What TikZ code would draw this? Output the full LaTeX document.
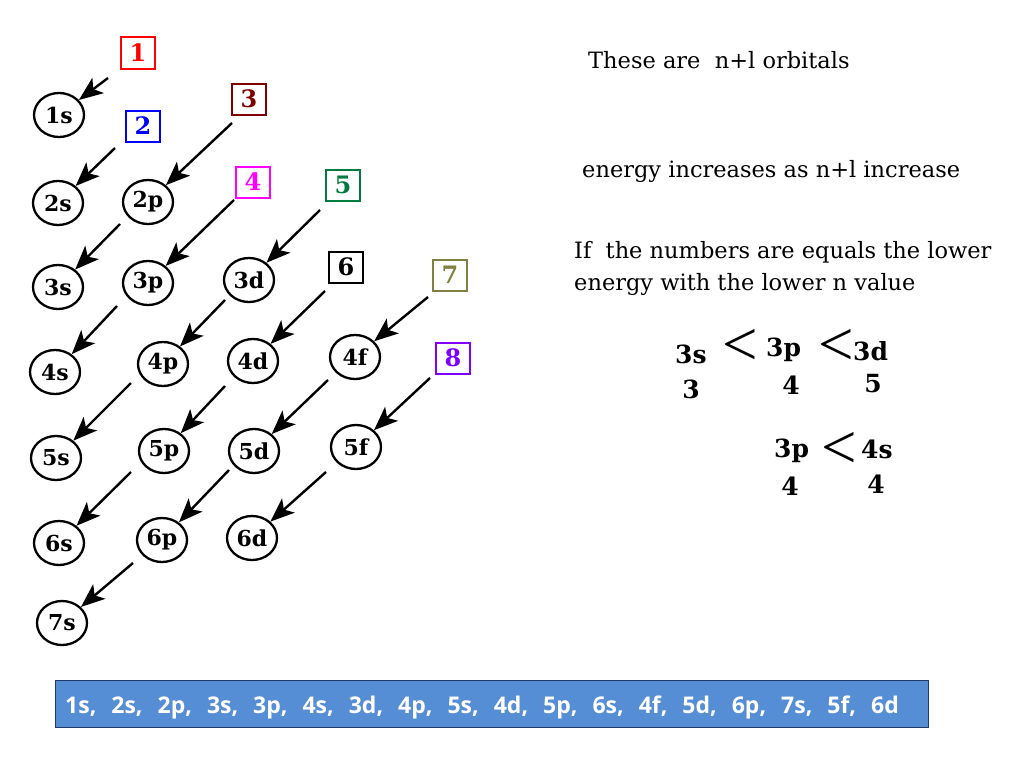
\documentclass[tikz,border=0pt]{standalone}
\usepackage{fontspec}
\setmainfont{DejaVu Serif}
\newfontfamily\barfont{Open Sans}
\newfontfamily\ltfont{Liberation Serif}
\usetikzlibrary{arrows.meta,shapes.geometric}
\definecolor{bxred}{HTML}{FF0000}
\definecolor{bxblue}{HTML}{0000FF}
\definecolor{bxmaroon}{HTML}{800000}
\definecolor{bxmagenta}{HTML}{FF00FF}
\definecolor{bxgreen}{HTML}{007A3D}
\definecolor{bxolive}{HTML}{808040}
\definecolor{bxviolet}{HTML}{8000FF}
\definecolor{barfill}{HTML}{558ED5}
\definecolor{barline}{HTML}{1F3864}
\tikzset{
  orb/.style={ellipse, draw, line width=2.3pt, minimum width=50pt, minimum height=44pt,
    inner sep=0pt, font=\fontsize{22}{26}\selectfont\bfseries},
  numbox/.style={draw, line width=2pt, minimum width=34pt, minimum height=31pt,
    inner sep=0pt, font=\fontsize{24}{28}\selectfont\bfseries},
  arr/.style={line width=2.4pt, -{Stealth[length=24pt,width=19pt,inset=6pt]}},
  note/.style={inner sep=0pt, anchor=base west, font=\fontsize{22.5}{27}\selectfont},
  cmp/.style={inner sep=0pt, font=\fontsize{25}{29}\selectfont\bfseries},
  lessthan/.style={inner sep=0pt, font=\ltfont\fontsize{63}{70}\selectfont}
}
\begin{document}
\begin{tikzpicture}[x=1pt,y=-1pt]
\fill[white] (0,0) rectangle (1024,768);
\useasboundingbox (0,0) rectangle (1024,768);

% orbitals
\node[orb] (1s) at (59,115) {1s};
\node[orb] (2s) at (58,203) {2s};
\node[orb] (2p) at (148,202) {2p};
\node[orb] (3s) at (58,287) {3s};
\node[orb] (3p) at (148,283) {3p};
\node[orb] (3d) at (249,280) {3d};
\node[orb] (4s) at (55,372) {4s};
\node[orb] (4p) at (163,364) {4p};
\node[orb] (4d) at (253,361) {4d};
\node[orb] (4f) at (355,357) {4f};
\node[orb] (5s) at (56,458) {5s};
\node[orb] (5p) at (164,451) {5p};
\node[orb] (5d) at (254,451) {5d};
\node[orb] (5f) at (356,447) {5f};
\node[orb] (6s) at (59,543) {6s};
\node[orb] (6p) at (162,540) {6p};
\node[orb] (6d) at (252,538) {6d};
\node[orb] (7s) at (62,623) {7s};

% number boxes
\node[numbox, draw=bxred, text=bxred] (b1) at (138,53) {1};
\node[numbox, draw=bxblue, text=bxblue] (b2) at (143,126) {2};
\node[numbox, draw=bxmaroon, text=bxmaroon] (b3) at (249,99) {3};
\node[numbox, draw=bxmagenta, text=bxmagenta] (b4) at (253,182) {4};
\node[numbox, draw=bxgreen, text=bxgreen] (b5) at (343,185) {5};
\node[numbox, draw=black, text=black] (b6) at (346,267) {6};
\node[numbox, draw=bxolive, text=bxolive] (b7) at (450,275) {7};
\node[numbox, draw=bxviolet, text=bxviolet] (b8) at (453,358) {8};

% arrow tails
\coordinate (t1) at (108,78);
\coordinate (t2) at (115,148);
\coordinate (t3) at (232,123);
\coordinate (t2p) at (120,224);
\coordinate (t4) at (234,200);
\coordinate (t3p) at (117,306);
\coordinate (t5) at (320,210);
\coordinate (t3d) at (225,300);
\coordinate (t6) at (325,291);
\coordinate (t7) at (428,297);
\coordinate (t4p) at (131,383);
\coordinate (t4d) at (225,386);
\coordinate (t4f) at (328,380);
\coordinate (t8) at (430,378);
\coordinate (t5p) at (131,472);
\coordinate (t5d) at (229,470);
\coordinate (t5f) at (326,472);
\coordinate (t6p) at (133,563);

\draw[arr] (t1) -- (1s);
\draw[arr] (t2) -- (2s);
\draw[arr] (t3) -- (2p);
\draw[arr] (t2p) -- (3s);
\draw[arr] (t4) -- (3p);
\draw[arr] (t3p) -- (4s);
\draw[arr] (t5) -- (3d);
\draw[arr] (t3d) -- (4p);
\draw[arr] (t6) -- (4d);
\draw[arr] (t7) -- (4f);
\draw[arr] (t4p) -- (5s);
\draw[arr] (t4d) -- (5p);
\draw[arr] (t4f) -- (5d);
\draw[arr] (t8) -- (5f);
\draw[arr] (t5p) -- (6s);
\draw[arr] (t5d) -- (6p);
\draw[arr] (t5f) -- (6d);
\draw[arr] (t6p) -- (7s);

% notes
\node[note] (n1) at (588,68) {These are~ n+l orbitals};
\node[note] (n2) at (582,177) {energy increases as n+l increase};
\node[note] (n3) at (574,258) {If~ the numbers are equals the lower};
\node[note] (n4) at (574,290) {energy with the lower n value};

% comparisons
\node[cmp, anchor=base west] (c3s) at (675,363) {3s};
\node[cmp, anchor=base west] (c3p) at (766,356) {3p};
\node[cmp, anchor=base west] (c3d) at (853,360) {3d};
\node[cmp] (v3) at (691,389) {3};
\node[cmp] (v4) at (791,385) {4};
\node[cmp] (v5) at (873,384) {5};
\node[lessthan] (lt1) at (740,347.5) {<};
\node[lessthan] (lt2) at (836,347.5) {<};
\node[cmp, anchor=base west] (d3p) at (774,457) {3p};
\node[cmp, anchor=base west] (d4s) at (861,458) {4s};
\node[lessthan] (lt3) at (839,450) {<};
\node[cmp] (w4a) at (790,486) {4};
\node[cmp] (w4b) at (876,484) {4};

% bottom bar
\node[draw=barline, fill=barfill, line width=1pt, minimum width=873pt, minimum height=47pt,
  inner sep=0pt, anchor=north west] (bar) at (55,680) {};
\node[inner sep=0pt, anchor=base west, text=white,
  font=\barfont\bfseries\fontsize{23}{27}\selectfont] (seq) at (65,713)
  {\spaceskip=15pt plus 0pt minus 0pt\relax 1s, 2s, 2p, 3s, 3p, 4s, 3d, 4p, 5s, 4d, 5p, 6s, 4f, 5d, 6p, 7s, 5f, 6d};
\end{tikzpicture}
\end{document}
